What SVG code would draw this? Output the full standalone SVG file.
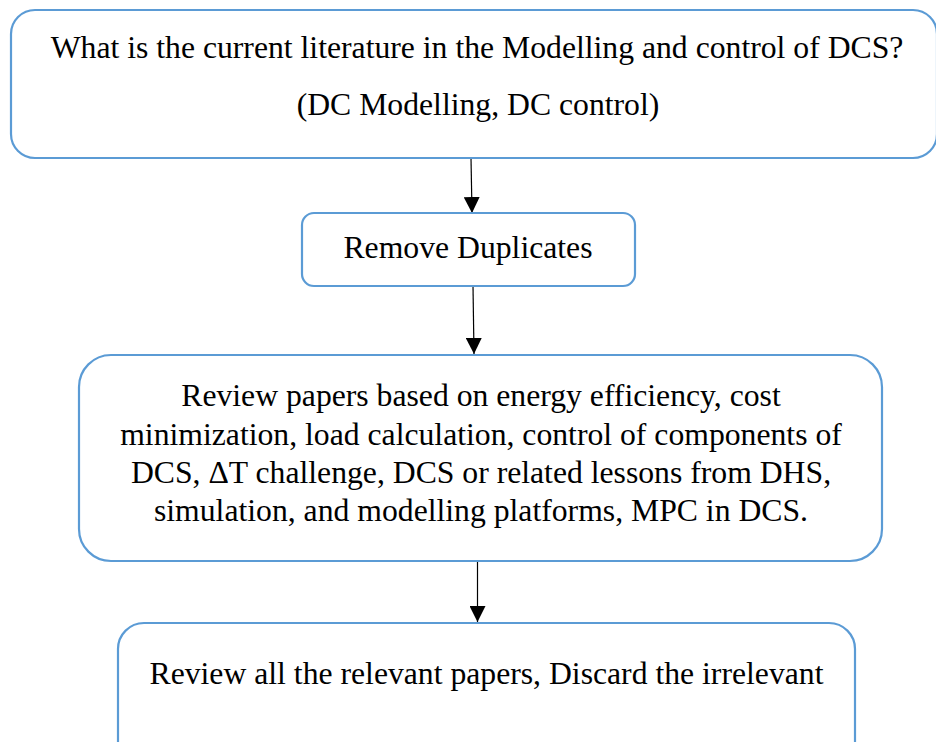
<svg xmlns="http://www.w3.org/2000/svg" width="936" height="742" viewBox="0 0 936 742">
<style>
.box{fill:#ffffff;stroke:#5B9BD5;stroke-width:2.2}
.t{font-family:"Liberation Serif","Times New Roman",serif;font-size:31.7px;fill:#000;text-anchor:middle}
.c{stroke:#000;stroke-width:1.2;fill:none}
</style>
<defs>
<marker id="ah" markerUnits="userSpaceOnUse" markerWidth="16" markerHeight="16" viewBox="0 0 15 15" refX="15" refY="7.5" orient="auto">
<path d="M0,0 L15,7.5 L0,15 z" fill="#000"/>
</marker>
</defs>
<rect width="936" height="742" fill="#ffffff"/>
<g id="connectors">
<line class="c" x1="471" y1="158" x2="472" y2="213" marker-end="url(#ah)"/>
<line class="c" x1="473" y1="286" x2="474" y2="354" marker-end="url(#ah)"/>
<line class="c" x1="477.5" y1="561" x2="477.5" y2="622" marker-end="url(#ah)"/>
</g>
<g id="node1">
<rect class="box" x="11" y="10" width="926" height="148" rx="24" ry="24"/>
<text class="t" x="477" y="58">What is the current literature in the Modelling and control of DCS?</text>
<text class="t" x="478" y="115">(DC Modelling, DC control)</text>
</g>
<g id="node2">
<rect class="box" x="302" y="213" width="333" height="73" rx="12" ry="12"/>
<text class="t" x="468" y="258">Remove Duplicates</text>
</g>
<g id="node3">
<rect class="box" x="79" y="355" width="803" height="206" rx="32" ry="32"/>
<text class="t" x="481" y="406">Review papers based on energy efficiency, cost</text>
<text class="t" x="481" y="444.5">minimization, load calculation, control of components of</text>
<text class="t" x="481" y="482.5">DCS, ΔT challenge, DCS or related lessons from DHS,</text>
<text class="t" x="481" y="520.5">simulation, and modelling platforms, MPC in DCS.</text>
</g>
<g id="node4">
<rect class="box" x="118" y="623" width="737" height="150" rx="26" ry="26"/>
<text class="t" x="486.5" y="683.5">Review all the relevant papers, Discard the irrelevant</text>
</g>
</svg>
